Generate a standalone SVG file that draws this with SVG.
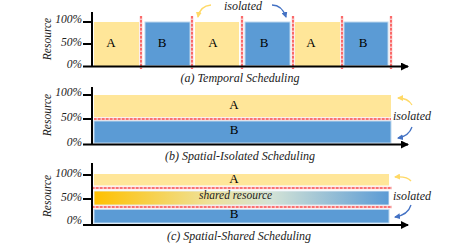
<svg xmlns="http://www.w3.org/2000/svg" width="471" height="248" viewBox="0 0 471 248">
<style>
.ax{stroke:#000;stroke-width:2;fill:none}
.a{fill:#FFE699}
.b{fill:#5B9BD5;stroke:#BDD7EE;stroke-width:1}
.sep{stroke:#F7C4C4;stroke-width:2.6;fill:none}
.sepd{stroke:#FF2020;stroke-width:1.1;stroke-dasharray:2.5 1.5;fill:none}
text{font-family:'Liberation Serif','Times New Roman','DejaVu Serif',serif}
.t{font-size:13px;fill:#000;text-anchor:middle}
.it{font-style:italic;fill:#222}
.tk{font-size:11.5px;text-anchor:end}
.cap{font-size:12px;text-anchor:middle}
.iso{font-size:12px}
.ya{stroke:#FFD966;stroke-width:1.3;fill:none}
.ba{stroke:#4472C4;stroke-width:1.3;fill:none}
</style>
<defs>
<marker id="ah" markerWidth="8" markerHeight="8" refX="7" refY="4" orient="auto" markerUnits="userSpaceOnUse"><path d="M0,0 L8,4 L0,8 Z" fill="#000"/></marker>
<marker id="ay" markerWidth="6" markerHeight="6" refX="5" refY="3" orient="auto" markerUnits="userSpaceOnUse"><path d="M0,0 L6,3 L0,6 Z" fill="#FFD966"/></marker>
<marker id="ab" markerWidth="6" markerHeight="6" refX="5" refY="3" orient="auto" markerUnits="userSpaceOnUse"><path d="M0,0 L6,3 L0,6 Z" fill="#4472C4"/></marker>
<linearGradient id="sg" x1="0" y1="0" x2="1" y2="0">
<stop offset="0" stop-color="#FFC000"/>
<stop offset="0.4" stop-color="#EEE29C"/>
<stop offset="0.6" stop-color="#D3E3D6"/>
<stop offset="1" stop-color="#5B9BD5"/>
</linearGradient>
</defs>

<!-- Panel a -->
<g id="panel-a">
<g id="a-bars">
<rect class="a" x="94" y="22" width="45" height="44"/>
<rect class="b" x="145" y="22" width="45" height="43.5"/>
<rect class="a" x="195" y="22" width="44" height="44"/>
<rect class="b" x="245" y="22" width="45" height="43.5"/>
<rect class="a" x="295" y="22" width="45" height="44"/>
<rect class="b" x="344" y="22" width="44" height="43.5"/>
</g>
<g id="a-seps">
<path class="sep" d="M141,16V69M192,16V69M242,16V69M293,16V69M342,16V69M391,16V69"/>
<path class="sepd" d="M141,16V69M192,16V69M242,16V69M293,16V69M342,16V69M391,16V69"/>
</g>
<g id="a-labels">
<text class="t" x="111" y="47">A</text>
<text class="t" x="162" y="47">B</text>
<text class="t" x="213" y="47">A</text>
<text class="t" x="264" y="47">B</text>
<text class="t" x="311" y="47">A</text>
<text class="t" x="363" y="47">B</text>
</g>
<g id="a-axes">
<path class="ax" d="M92,12V66.5M83,22H92M83,44H92M83,66.5H408" marker-end="url(#ah)"/>
<text class="it tk" x="82" y="23">100%</text>
<text class="it tk" x="82" y="46">50%</text>
<text class="it tk" x="82" y="68">0%</text>
<text class="it" font-size="11.5" text-anchor="middle" transform="translate(51,39) rotate(-90)">Resource</text>
</g>
<text class="it iso" x="224" y="10">isolated</text>
<text class="it cap" x="240" y="82">(a) Temporal Scheduling</text>
</g>

<!-- Panel b -->
<g id="panel-b">
<rect class="a" x="94" y="95" width="297" height="22"/>
<rect class="b" x="94" y="121" width="297" height="22"/>
<path class="sep" d="M94,119H391"/>
<path class="sepd" d="M94,119H391"/>
<text class="t" x="234" y="109">A</text>
<text class="t" x="234" y="134">B</text>
<path class="ax" d="M92,87V144.5M83,95H92M83,119H92M83,144.5H408" marker-end="url(#ah)"/>
<text class="it tk" x="82" y="96">100%</text>
<text class="it tk" x="82" y="121">50%</text>
<text class="it tk" x="82" y="146">0%</text>
<text class="it" font-size="11.5" text-anchor="middle" transform="translate(51,115) rotate(-90)">Resource</text>
<text class="it iso" x="393" y="120">isolated</text>
<text class="it cap" x="240" y="160">(b) Spatial-Isolated Scheduling</text>
</g>

<!-- Panel c -->
<g id="panel-c">
<rect class="a" x="94" y="174" width="295" height="11.5"/>
<rect x="94" y="191" width="295" height="14" fill="url(#sg)" stroke="#E8F0F8" stroke-width="0.8"/>
<rect class="b" x="94" y="209.5" width="295" height="13.5"/>
<path class="sep" d="M92,188H392M92,207H392"/>
<path class="sepd" d="M92,188H392M92,207H392"/>
<text class="t" x="234" y="183">A</text>
<text class="it" font-size="11.5" x="199" y="199">shared resource</text>
<text class="t" x="234" y="218">B</text>
<path class="ax" d="M92,163V225M83,175H92M83,199H92M83,225H408" marker-end="url(#ah)"/>
<text class="it tk" x="82" y="177">100%</text>
<text class="it tk" x="82" y="201">50%</text>
<text class="it tk" x="82" y="224">0%</text>
<text class="it" font-size="11.5" text-anchor="middle" transform="translate(51,196) rotate(-90)">Resource</text>
<text class="it iso" x="393" y="200">isolated</text>
<text class="it cap" x="239" y="240">(c) Spatial-Shared Scheduling</text>
</g>

<g id="connectors">
<path class="ya" d="M211,5 Q200,6 198,17" marker-end="url(#ay)"/>
<path class="ba" d="M272,5 Q282,5 286,17" marker-end="url(#ab)"/>
<path class="ya" d="M412,105 Q408,98 398,98" marker-end="url(#ay)"/>
<path class="ba" d="M412,127 Q409,136 398,138" marker-end="url(#ab)"/>
<path class="ya" d="M411,181 Q407,176 395,177" marker-end="url(#ay)"/>
<path class="ba" d="M411,205 Q408,215 395,217" marker-end="url(#ab)"/>
</g>
</svg>
